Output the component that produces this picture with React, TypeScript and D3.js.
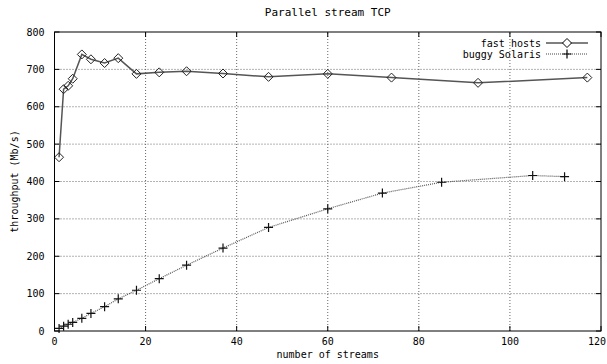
import * as d3 from "d3";

// streams -> throughput (Mb/s)
const fastStreams = [1, 2, 3, 4, 6, 8, 11, 14, 18, 23, 29, 37, 47, 60, 74, 93, 117];
const fastThroughput = [465, 647, 656, 675, 740, 727, 717, 730, 688, 692, 695, 689, 680, 688, 678, 664, 678];

const buggyStreams = [1, 2, 3, 4, 6, 8, 11, 14, 18, 23, 29, 37, 47, 60, 72, 85, 105, 112];
const buggyThroughput = [7, 13, 18, 23, 34, 47, 65, 86, 109, 140, 176, 222, 277, 327, 369, 398, 416, 413];

const xTicks = [0, 20, 40, 60, 80, 100, 120];
const yTicks = [0, 100, 200, 300, 400, 500, 600, 700, 800];

const width = 607;
const height = 364;
const margin = { top: 32, right: 6, bottom: 33, left: 54.5 };
const font = "'DejaVu Sans Mono', monospace";

export default function App() {
    const x = d3.scaleLinear().domain([0, 120]).range([margin.left, width - margin.right]);
    const y = d3.scaleLinear().domain([0, 800]).range([height - margin.bottom, margin.top]);

    const fast = fastStreams.map((s, i) => [s, fastThroughput[i]] as [number, number]);
    const buggy = buggyStreams.map((s, i) => [s, buggyThroughput[i]] as [number, number]);

    const line = d3
        .line<[number, number]>()
        .x((d) => x(d[0]))
        .y((d) => y(d[1]));

    const diamond = (cx: number, cy: number, r = 4.5) =>
        `M${cx},${cy - r}L${cx + r},${cy}L${cx},${cy + r}L${cx - r},${cy}Z`;
    const plus = (cx: number, cy: number, r = 4.5) =>
        `M${cx - r},${cy}H${cx + r}M${cx},${cy - r}V${cy + r}`;

    const [x0, x1] = x.range();
    const [y0, y1] = y.range();

    return (
        <svg
            width={width}
            height={height}
            style={{ position: "absolute", left: 0, top: 0, background: "#fff" }}
            fontFamily={font}
        >
            {/* grid */}
            <g stroke="#666" strokeWidth={1} strokeDasharray="1,2">
                {xTicks.slice(1, -1).map((t) => (
                    <line key={"gx" + t} x1={x(t)} x2={x(t)} y1={y0} y2={y1} />
                ))}
                {yTicks.slice(1, -1).map((t) => (
                    <line key={"gy" + t} x1={x0} x2={x1} y1={y(t)} y2={y(t)} />
                ))}
            </g>

            {/* tick marks, mirrored on all sides */}
            <g stroke="#000" strokeWidth={1}>
                {xTicks.map((t) => (
                    <g key={"tx" + t}>
                        <line x1={x(t)} x2={x(t)} y1={y0} y2={y0 - 5} />
                        <line x1={x(t)} x2={x(t)} y1={y1} y2={y1 + 5} />
                    </g>
                ))}
                {yTicks.map((t) => (
                    <g key={"ty" + t}>
                        <line x1={x0} x2={x0 + 5} y1={y(t)} y2={y(t)} />
                        <line x1={x1} x2={x1 - 5} y1={y(t)} y2={y(t)} />
                    </g>
                ))}
            </g>

            {/* tick labels */}
            <g fontSize={10} fill="#000">
                {xTicks.map((t) => (
                    <text
                        key={"lx" + t}
                        x={Math.min(x(t), width - 10)}
                        y={y0 + 14}
                        textAnchor="middle"
                    >
                        {t}
                    </text>
                ))}
                {yTicks.map((t) => (
                    <text key={"ly" + t} x={x0 - 10} y={y(t) + 3.5} textAnchor="end">
                        {t}
                    </text>
                ))}
            </g>

            {/* series */}
            <path d={line(fast) ?? ""} fill="none" stroke="#555" strokeWidth={1.5} />
            <g fill="none" stroke="#222" strokeWidth={1}>
                {fast.map((d, i) => (
                    <path key={"f" + i} d={diamond(x(d[0]), y(d[1]))} />
                ))}
            </g>
            <path d={line(buggy) ?? ""} fill="none" stroke="#555" strokeWidth={1.2} strokeDasharray="1,1" />
            <g fill="none" stroke="#111" strokeWidth={1.2}>
                {buggy.map((d, i) => (
                    <path key={"b" + i} d={plus(x(d[0]), y(d[1]))} />
                ))}
            </g>

            {/* legend */}
            <g fontSize={10} fill="#000">
                <text x={541} y={47} textAnchor="end">fast hosts</text>
                <line x1={546} x2={588} y1={43} y2={43} stroke="#000" strokeWidth={1} />
                <path d={diamond(567, 43)} fill="#fff" stroke="#000" strokeWidth={1} />
                <text x={541} y={58} textAnchor="end">buggy Solaris</text>
                <line x1={546} x2={588} y1={54} y2={54} stroke="#444" strokeWidth={1} strokeDasharray="1,1" />
                <path d={plus(567, 54)} fill="none" stroke="#000" strokeWidth={1.2} />
            </g>

            {/* frame */}
            <rect x={x0} y={y1} width={x1 - x0} height={y0 - y1} fill="none" stroke="#000" strokeWidth={1} />

            {/* titles */}
            <text x={(x0 + x1) / 2} y={16} fontSize={11} textAnchor="middle">
                Parallel stream TCP
            </text>
            <text x={(x0 + x1) / 2} y={358} fontSize={10} textAnchor="middle">
                number of streams
            </text>
            <text
                transform={`translate(18,${(y0 + y1) / 2}) rotate(-90)`}
                fontSize={10}
                textAnchor="middle"
            >
                throughput (Mb/s)
            </text>
        </svg>
    );
}
